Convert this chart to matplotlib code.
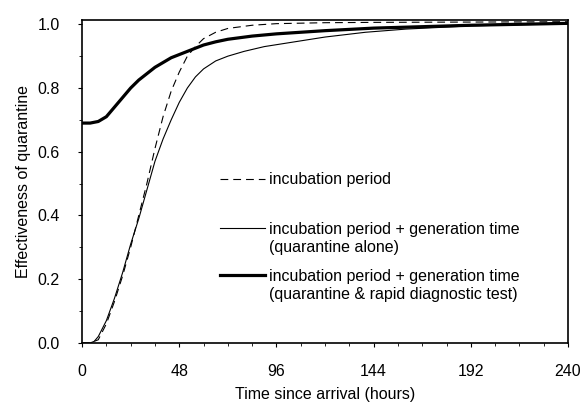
import matplotlib
matplotlib.use("Agg")
import matplotlib.pyplot as plt
from matplotlib.lines import Line2D
from matplotlib.ticker import MultipleLocator, FormatStrFormatter

plt.rcParams['font.family'] = ['Liberation Sans', 'DejaVu Sans']

# time since arrival (hours) and effectiveness of quarantine
t_incub = [0, 4, 8, 12, 16, 20, 24, 28, 32, 36, 40, 44, 48, 52, 56, 60, 66, 72,
           84, 96, 120, 144, 192, 240]
eff_incub = [0, 0, 0.01, 0.06, 0.13, 0.21, 0.30, 0.40, 0.50, 0.61, 0.71, 0.79,
             0.85, 0.90, 0.93, 0.955, 0.975, 0.987, 0.997, 1.002, 1.005, 1.006,
             1.007, 1.008]

t_alone = [0, 4, 6, 8, 12, 16, 20, 24, 28, 32, 36, 40, 44, 48, 52, 56, 60, 66,
           72, 80, 90, 100, 110, 120, 140, 160, 192, 240]
eff_alone = [0, 0, 0.005, 0.02, 0.07, 0.14, 0.22, 0.31, 0.39, 0.48, 0.57, 0.64,
             0.70, 0.755, 0.80, 0.835, 0.86, 0.885, 0.90, 0.915, 0.93, 0.94,
             0.95, 0.96, 0.975, 0.985, 0.995, 1.002]

t_rdt = [0, 4, 8, 12, 16, 20, 24, 28, 32, 36, 40, 44, 48, 52, 56, 60, 66, 72,
         84, 96, 120, 144, 192, 240]
eff_rdt = [0.69, 0.69, 0.695, 0.71, 0.74, 0.77, 0.80, 0.825, 0.845, 0.865, 0.88,
           0.895, 0.905, 0.915, 0.925, 0.935, 0.945, 0.953, 0.963, 0.970, 0.98,
           0.988, 0.997, 1.003]

labels = ["incubation period",
          "incubation period + generation time", "(quarantine alone)",
          "incubation period + generation time", "(quarantine & rapid diagnostic test)"]

fig = plt.figure(figsize=(5.82, 4.03), dpi=100)
ax = fig.add_axes([0.141, 0.149, 0.835, 0.801])

dash = (0, (7, 4.5))
ax.plot(t_incub, eff_incub, color='black', lw=0.8, ls=dash)
ax.plot(t_alone, eff_alone, color='black', lw=0.8)
ax.plot(t_rdt, eff_rdt, color='black', lw=2.3)

ax.set_xlim(0, 240)
ax.set_ylim(0, 1.013)
ax.xaxis.set_major_locator(MultipleLocator(48))
ax.xaxis.set_minor_locator(MultipleLocator(12))
ax.yaxis.set_major_locator(MultipleLocator(0.2))
ax.yaxis.set_minor_locator(MultipleLocator(0.1))
ax.yaxis.set_major_formatter(FormatStrFormatter('%.1f'))
ax.tick_params(which='major', direction='out', length=3, width=0.8, labelsize=11.5)
ax.tick_params(which='minor', direction='out', length=2, width=0.6)
ax.tick_params(axis='x', pad=12)
ax.tick_params(axis='y', pad=13)
for s in ax.spines.values():
    s.set_linewidth(1.2)

ax.set_xlabel("Time since arrival (hours)", fontsize=11.5, labelpad=6)
ax.set_ylabel("Effectiveness of quarantine", fontsize=11.5, labelpad=5)

# legend in three blocks so each key line sits on the first text line
blank = Line2D([], [], color='none')
leg_kw = dict(frameon=False, fontsize=11.5, handlelength=2.8, handletextpad=0.25,
              labelspacing=0.2, borderpad=0, borderaxespad=0, loc='upper left')
h1 = Line2D([], [], color='black', lw=0.8, ls=dash)
h2 = Line2D([], [], color='black', lw=0.8)
h3 = Line2D([], [], color='black', lw=2.3)
leg1 = ax.legend([h1], labels[:1], bbox_to_anchor=(0.284, 0.529), **leg_kw)
ax.add_artist(leg1)
leg2 = ax.legend([h2, blank], labels[1:3], bbox_to_anchor=(0.284, 0.375), **leg_kw)
ax.add_artist(leg2)
ax.legend([h3, blank], labels[3:5], bbox_to_anchor=(0.284, 0.229), **leg_kw)

fig.savefig("out.png", dpi=100)
